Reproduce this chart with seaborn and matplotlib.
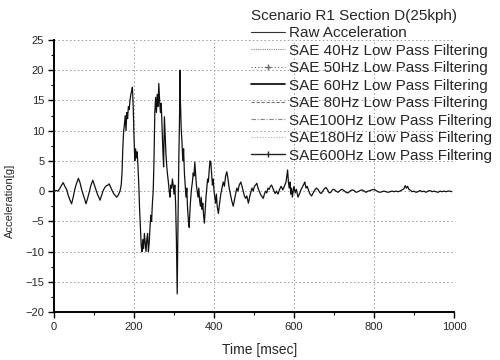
import matplotlib
matplotlib.use("Agg")
import matplotlib.pyplot as plt
from matplotlib.lines import Line2D
from matplotlib.ticker import MultipleLocator
import seaborn as sns
import pandas as pd

# ---- data ----
time_ms = [0, 5, 10, 15, 20, 23, 27, 32, 36, 40, 44, 48, 52, 56, 61, 65, 69, 73, 77, 80,
           84, 88, 92, 97, 101, 105, 109, 112, 115, 119, 123, 127, 131, 135, 138, 142, 146,
           150, 154, 157, 161, 165, 168,
           170, 172, 174, 176, 178, 180, 182, 184, 186, 188, 190, 192, 194, 196, 198, 200,
           202, 204, 206, 208, 210, 212, 214, 216, 218, 220, 222, 224, 226, 228, 230, 232,
           234, 236, 238, 240, 242, 244, 246, 248, 250, 252, 254, 256, 258, 260, 262, 264,
           266, 268, 270, 272, 274, 276, 278, 280, 282, 284, 286, 288, 290, 292, 294, 296,
           298, 300, 302, 304, 306, 308, 310, 312, 314, 315, 316, 318, 320, 322, 324, 326,
           328, 330, 332, 334, 336, 338, 340, 342, 344, 346, 348, 350, 352, 354, 356, 358,
           360, 362, 364, 366, 368, 370, 372, 374, 376, 378, 380, 382, 384, 386, 388, 390,
           392, 394, 396, 398, 400, 402, 404, 406, 408, 411, 414, 417, 420, 423, 426, 429,
           432, 435, 438, 441, 444, 448, 451, 454, 457, 460, 463, 467, 470, 473, 476, 479,
           482, 486, 489, 492, 495, 498, 501, 504, 507, 510, 513, 516, 519, 523, 526, 529,
           532, 535, 538, 541, 544, 547, 550, 553, 556, 560, 564, 568, 572, 576, 580, 582,
           584, 586, 588, 590, 592, 594, 596, 598, 600, 603, 606, 610, 614, 618, 622, 625,
           627, 630, 633, 636, 640, 644, 648, 652, 656, 660, 664, 668, 672, 676, 680, 684,
           688, 692, 696, 700, 705, 710, 715, 720, 725, 730, 735, 740, 745, 750, 755, 760,
           765, 770, 775, 780, 785, 790, 795, 800, 805, 810, 815, 820, 825, 830, 835, 840,
           845, 850, 855, 860, 865, 870, 875, 878, 881, 884, 887, 890, 895, 900, 905, 910,
           915, 920, 925, 930, 935, 940, 945, 950, 955, 960, 965, 970, 975, 980, 985, 990,
           994]
raw_accel_g = [0, 0.1, 0, 0.5, 1.1, 1.4, 0.8, 0.2, -0.8, -1.5, -2.1, -1.0, 0.3, 1.2, 2.1, 1.4,
               0.3, -0.6, -1.4, -2.1, -1.2, -0.2, 0.9, 1.8, 1.0, 0.2, -0.6, -1.0, -1.5, -0.7,
               0.1, 0.6, 0.9, 1.0, 1.2, 0.6, 0.0, -0.5, -0.8, -1.0, -0.6, 0.0, 1.0,
               3, 7, 9.8, 11, 12.5, 10, 13, 12, 14, 13.5, 15, 16, 16.5, 17.2, 14, 9,
               5, 7, 5.5, 6.5, 4, 1, -3, -6, -9, -10, -8, -9.5, -7, -8.5, -10, -8,
               -7, -10, -8.5, -6, -4, -5, -2, 0, 5, 13, 15.5, 13, 16, 14, 17.8, 15,
               13, 14.5, 11, 7, 4, 12.3, 9, 6, 4, 2.6, 1.5, 0, -1, 1, 0.5, 2,
               1, -0.5, 1, -2, -8, -17, -5, 5, 13, 20, 15, 10.4, 8, 5, 7, 3,
               1, -1, 0.5, -3, -4.8, -6, -3, -1, 0.5, 1.5, 3, 2.5, 4.8, 3, 1, 0,
               -1, 0.5, -1.5, -2.5, -1, -3, -2, -4, -5.3, -3, -1, 0.5, 2, 1.5, 3.5, 5,
               4.8, 3, 1, 2, 0, -1, -2, -0.5, -2.5, -3.7, -2, -0.5, 0.5, 1.5, 0.8, 2.5,
               3.2, 2, 0.5, -0.5, -1.5, -2.5, -1.5, -0.5, 0.5, 0, 1, 1.5, 0.8, 0, -0.8, -1.2,
               -0.8, -2, -1, -0.2, 0.5, 0, 0.8, 1.0, 1.3, 0.5, 0, -0.5, -0.8, -1.2, -0.5, 0,
               -0.3, 0.5, 0.3, 0.8, 1.0, 0.5, 0, -0.4, 0, -0.5, 0.3, 0.8, 0.2, 0.8, 1.5, 2.5,
               3.5, 1.5, 0.5, 1.5, -0.5, 0.5, -1, 0, 0.8, -0.3, 0.3, -1, -0.4, 0.3, 0.8, 1.2,
               1.5, 0.5, 0.8, 0.2, -0.5, -0.8, -0.3, 0.2, 0.5, 0.3, -0.2, -0.4, 0, 0.4, 0.6, 0.2,
               -0.3, -0.2, 0.2, 0.3, 0, -0.2, 0.1, 0.3, 0.1, -0.2, -0.3, 0, 0.2, 0.1, -0.2, -0.1,
               0.1, 0.2, 0, -0.2, 0, 0.1, 0.2, 0.3, 0.1, -0.1, -0.2, -0.1, 0, -0.1, -0.2, -0.1,
               0, -0.1, 0, -0.1, 0, 0.2, 0.4, 0.9, 0.5, 0.8, 0.3, 0.2, -0.1, 0.0, -0.2, -0.1,
               0.1, -0.1, 0, -0.2, 0, 0.1, -0.1, 0, -0.1, -0.2, 0, -0.1, 0, -0.1, 0, 0,
               -0.1]

legend_title = "Scenario R1 Section D(25kph)"
series_labels = ["Raw Acceleration",
                 "SAE 40Hz Low Pass Filtering",
                 "SAE 50Hz Low Pass Filtering",
                 "SAE 60Hz Low Pass Filtering",
                 "SAE 80Hz Low Pass Filtering",
                 "SAE100Hz Low Pass Filtering",
                 "SAE180Hz Low Pass Filtering",
                 "SAE600Hz Low Pass Filtering"]
x_ticks = [0, 200, 400, 600, 800, 1000]
y_ticks = [-20, -15, -10, -5, 0, 5, 10, 15, 20, 25]

df = pd.DataFrame({"t": time_ms, "a": raw_accel_g})

sns.set_style("white")
plt.rcParams["font.family"] = ["Liberation Sans", "DejaVu Sans"]

fig = plt.figure(figsize=(5.0, 3.6), dpi=100)
ax = fig.add_axes([54 / 500, 1 - 312 / 360, 400 / 500, 272 / 360])

sns.lineplot(data=df, x="t", y="a", ax=ax, color="#111111", linewidth=0.9,
             estimator=None, sort=False)

ax.set_xlim(0, 1000)
ax.set_ylim(-20, 25)
ax.set_xticks(x_ticks)
ax.set_yticks(y_ticks)
ax.xaxis.set_minor_locator(MultipleLocator(100))
ax.yaxis.set_minor_locator(MultipleLocator(2.5))
ax.tick_params(axis="both", which="major", direction="out", length=4, width=1,
               labelsize=8, color="black", pad=3, left=True, bottom=True)
ax.tick_params(axis="both", which="minor", direction="out", length=2, width=0.8,
               color="black", left=True, bottom=True)

ax.grid(True, which="major", linestyle=(0, (1.5, 2.5)), color="#999999", linewidth=0.7)
for s in ["top", "right"]:
    ax.spines[s].set_visible(False)
for s in ["left", "bottom"]:
    ax.spines[s].set_color("black")
    ax.spines[s].set_linewidth(1.4)

ax.set_xlabel("Time [msec]", fontsize=10, labelpad=10)
ax.xaxis.set_label_coords(0.515, -0.115)
ax.set_ylabel("Acceleration[g]", fontsize=8, labelpad=4)
ax.yaxis.set_label_coords(-0.0975, 0.41)

styles = [
    dict(color="#333333", lw=0.8, ls="-"),
    dict(color="#888888", lw=0.8, ls=(0, (1, 1))),
    dict(color="#666666", lw=0.8, ls=(0, (1, 2)), marker="+", markevery=[1], ms=5),
    dict(color="#000000", lw=1.2, ls="-"),
    dict(color="#777777", lw=0.8, ls=(0, (3, 1.5))),
    dict(color="#888888", lw=0.8, ls=(0, (4, 1.5, 1, 1.5))),
    dict(color="#aaaaaa", lw=0.8, ls=(0, (1, 1.5))),
    dict(color="#222222", lw=1.0, ls="-", marker="|", markevery=[1], ms=5),
]
handles = [Line2D([0, 0.5, 1], [0, 0, 0], **st) for st in styles]
leg = fig.legend(handles, series_labels, title=legend_title, loc="upper left",
                 bbox_to_anchor=(243 / 500, 1 - 1 / 360), frameon=False,
                 fontsize=11, title_fontsize=11, handlelength=2.25,
                 handletextpad=0.28, labelspacing=0.23, borderpad=0.0,
                 alignment="left")

fig.savefig("out.png", dpi=100)
